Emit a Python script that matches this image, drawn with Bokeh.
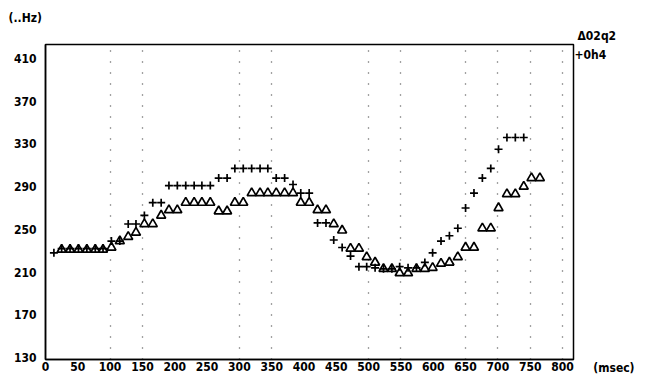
import numpy as np
from bokeh.plotting import figure
from bokeh.models import FixedTicker, Range1d, ColumnDataSource, Title, LinearAxis
from bokeh.embed import file_html
from bokeh.resources import INLINE

nan = np.nan

# time of each analysis frame (msec)
times = [13, 25, 38, 51, 64, 77, 89, 102, 115, 128, 140, 153, 166, 179, 191,
         204, 217, 230, 242, 255, 268, 281, 293, 306, 319, 332, 344, 357, 370, 383,
         395, 408, 421, 434, 446, 459, 472, 485, 497, 510, 523, 536, 548, 561, 574,
         587, 599, 612, 625, 638, 650, 663, 676, 689, 701, 714, 727, 740, 752, 765]

# series "02q2" (triangles), Hz
f_02q2 = [nan, 231, 231, 231, 231, 231, 231, 233, 239, 243, 247, 255, 255, 263, 268,
          268, 275, 275, 275, 275, 267, 267, 275, 275, 284, 284, 284, 284, 284, 284,
          275, 275, 268, 268, 255, 249, 232, 232, 224, 219, 213, 213, 209, 209, 213,
          213, 214, 218, 219, 224, 233, 233, 251, 251, 270, 283, 283, 290, 298, 298]

# series "0h4" (plus), Hz
f_0h4 = [228, 232, 232, 232, 232, 232, 232, 239, 239, 255, 255, 263, 275, 275, 291,
         291, 291, 291, 291, 291, 298, 298, 307, 307, 307, 307, 307, 298, 298, 292,
         284, 284, 256, 256, 240, 233, 225, 215, 215, 214, 213, 213, 215, 214, 214,
         219, 228, 239, 244, 251, 270, 284, 298, 307, 325, 336, 336, 336, nan, nan]

x_ticks = list(range(0, 801, 50))
y_ticks = list(range(130, 411, 40))
grid_x = [100, 150, 300, 350, 500, 550, 650, 700, 750, 800]

FONT = "DejaVu Sans Condensed"
FS = "12px"

Y0, Y1 = 128.1, 423.1

p = figure(width=637, height=375, output_backend="svg", toolbar_location=None,
           x_range=Range1d(0, 817), y_range=Range1d(Y0, Y1),
           min_border_left=45, min_border_right=60, min_border_top=44,
           min_border_bottom=16)
p.background_fill_color = "white"
p.border_fill_color = "white"
p.outline_line_color = "black"
p.outline_line_width = 1.5

def style_axis(ax):
    ax.major_tick_line_color = None
    ax.minor_tick_line_color = None
    ax.major_tick_out = 0
    ax.major_tick_in = 0
    ax.minor_tick_out = 0
    ax.minor_tick_in = 0
    ax.axis_line_color = "black"
    ax.axis_line_width = 1.5
    ax.major_label_text_font = FONT
    ax.major_label_text_font_size = FS
    ax.major_label_text_font_style = "bold"
    ax.major_label_text_color = "black"

style_axis(p.xaxis[0])
style_axis(p.yaxis[0])

p.xaxis.ticker = FixedTicker(ticks=x_ticks)
p.yaxis.ticker = FixedTicker(ticks=y_ticks)
p.xaxis.major_label_standoff = 2
p.yaxis.major_label_standoff = 9

# right-hand texts: series key "+0h4" and unit "(msec)" via an unlined right axis
key_y = 412.8
unit_y = Y0 + 0.1
r_ax = LinearAxis(ticker=FixedTicker(ticks=[unit_y, key_y]),
                  major_label_overrides={unit_y: "\n\u00a0\u00a0\u00a0\u00a0\u00a0(msec)",
                                         key_y: "+0h4"})
style_axis(r_ax)
r_ax.axis_line_color = None
r_ax.major_label_standoff = 1
p.add_layout(r_ax, "right")

p.ygrid.grid_line_color = None
p.xgrid.ticker = FixedTicker(ticks=grid_x)
p.xgrid.grid_line_color = "#444444"
p.xgrid.grid_line_dash = "1 10"
p.xgrid.grid_line_width = 1.3

src = ColumnDataSource(dict(t=times, a=f_02q2, b=f_0h4))
p.scatter("t", "a", source=src, marker="triangle", size=9,
          line_color="black", fill_color="white", line_width=1.7)
p.scatter("t", "b", source=src, marker="cross", size=8,
          line_color="black", line_width=1.7)

# titles above the frame: unit "(..Hz)" (outer) and series key "Δ02q2" (inner)
p.title.text = "(..Hz)"
p.title.align = "left"
p.title.offset = -37
p.title.standoff = 1
p.title.text_font = FONT
p.title.text_font_size = FS
p.title.text_font_style = "bold"
p.title.text_color = "black"

t_key = Title(text="\u039402q2", align="left", offset=532, standoff=3,
              text_font=FONT, text_font_size=FS, text_font_style="bold",
              text_color="black")
p.add_layout(t_key, "above")

open("out.html", "w").write(file_html(p, INLINE))
